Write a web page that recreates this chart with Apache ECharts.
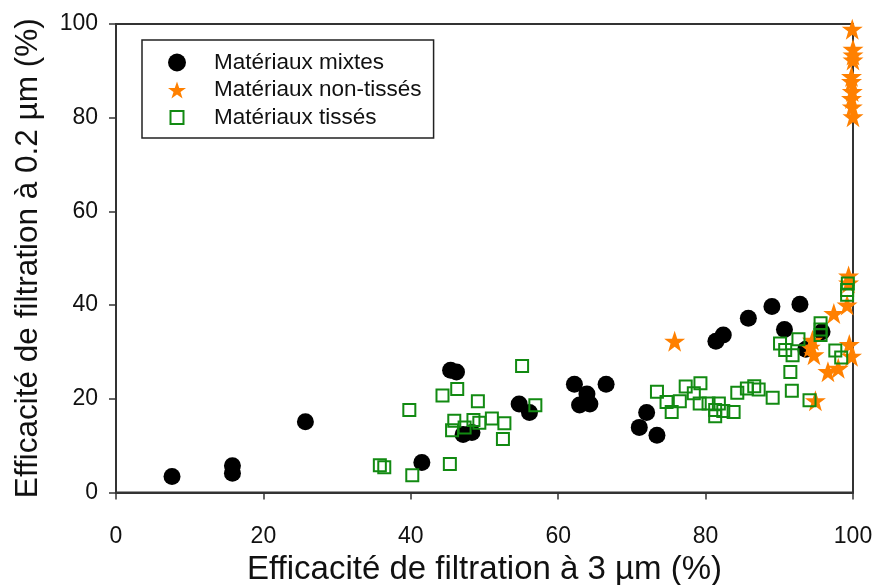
<!DOCTYPE html>
<html>
<head>
<meta charset="utf-8">
<script src="https://cdn.jsdelivr.net/npm/echarts@6/dist/echarts.min.js"></script>
<style>
html,body{margin:0;padding:0;background:#fff;}
#c{width:875px;height:585px;}
</style>
</head>
<body>
<div id="c"></div>
<script>
// Data: [efficacité à 3 µm (%), efficacité à 0.2 µm (%)]
var mixtes = [[7.6,3.4],[15.8,5.7],[15.8,4.1],[25.7,15.1],[41.5,6.4],[45.4,26.1],[46.2,25.7],[47.1,12.4],[48.3,12.8],[54.7,18.9],[56.1,17.1],[62.2,23.1],[62.9,18.7],[63.9,21.0],[64.3,18.9],[66.5,23.1],[71.0,13.9],[72.0,17.1],[73.4,12.2],[81.4,32.3],[82.4,33.6],[85.8,37.2],[89.0,39.7],[90.7,34.8],[92.8,40.2],[93.6,30.6],[95.8,34.3]];
var nonTisses = [[75.8,32.3],[94.5,32.5],[94.2,31.0],[94.7,29.4],[94.9,19.6],[96.6,25.8],[98.0,26.5],[97.4,38.2],[99.2,40.0],[99.4,46.2],[99.4,44.7],[99.5,31.6],[99.8,29.1],[99.9,98.9],[100,94.6],[100,93.4],[100,92.3],[99.8,88.8],[99.8,87.7],[99.9,85.6],[99.8,84.1],[99.9,82.3],[100,80.2]];
var tisses = [[35.8,5.8],[36.4,5.4],[40.2,3.7],[45.3,6.1],[39.8,17.6],[44.3,20.7],[46.3,22.1],[49.1,19.5],[45.9,15.3],[48.5,15.5],[49.3,14.9],[51.0,15.8],[45.6,13.3],[47.3,13.9],[52.7,14.8],[52.5,11.4],[55.1,27.0],[56.9,18.6],[73.4,21.5],[74.7,19.3],[75.4,17.2],[76.5,19.5],[77.3,22.6],[79.3,23.3],[78.4,21.2],[79.2,19.0],[80.4,19.0],[81.8,19.0],[81.3,17.6],[81.3,16.3],[82.4,17.4],[83.8,17.2],[84.3,21.3],[85.6,22.2],[86.6,22.7],[87.2,22.0],[89.1,20.2],[91.7,21.7],[91.5,25.7],[94.1,19.7],[90.1,31.8],[90.8,30.4],[91.8,29.3],[92.6,32.7],[95.6,36.1],[95.6,34.8],[95.6,33.6],[97.6,30.3],[98.4,28.8],[99.2,43.2],[99.2,42.2],[99.3,44.6]];
var seriesNames = ['Matériaux mixtes','Matériaux non-tissés','Matériaux tissés'];
var xTitle = 'Efficacité de filtration à 3 µm (%)';
var yTitle = 'Efficacité de filtration à 0.2 µm (%)';

var STAR = 'path://M50,2 L61.8,36.2 L97.6,36.2 L68.6,57.4 L79.4,92 L50,70.6 L20.6,92 L31.4,57.4 L2.4,36.2 L38.2,36.2 Z';
var SQ_ICON = 'path://M0,0 M18,18 M2.5,2.5 L15.5,2.5 L15.5,15.5 L2.5,15.5 Z';
var FONT = 'Liberation Sans, Arial, sans-serif';
var chart = echarts.init(document.getElementById('c'), null, {renderer:'canvas'});
chart.setOption({
  animation:false,
  backgroundColor:'#fff',
  textStyle:{fontFamily:FONT},
  grid:{left:116, right:22, top:24, bottom:92.5, containLabel:false, outerBoundsMode:'none',
        show:true, borderColor:'#333', borderWidth:2, backgroundColor:'transparent'},
  legend:{
    orient:'vertical', left:142, top:40,
    padding:[11,12,9,25],
    itemWidth:18, itemHeight:18, itemGap:4.5,
    borderColor:'#222', borderWidth:1.5, backgroundColor:'#fff',
    textStyle:{fontFamily:FONT, fontSize:22.5, color:'#111', padding:[0,0,0,23]},
    data:[{name:seriesNames[0]},{name:seriesNames[1]},{name:seriesNames[2], icon:SQ_ICON}]
  },
  xAxis:{
    type:'value', min:0, max:100, interval:20,
    name:xTitle, nameLocation:'middle', nameGap:50,
    nameTextStyle:{fontFamily:FONT, fontSize:33, color:'#111'},
    axisLine:{lineStyle:{color:'#333', width:2}},
    axisTick:{show:true, inside:false, length:7, lineStyle:{color:'#333', width:1.5}},
    axisLabel:{fontFamily:FONT, fontSize:23, color:'#111', margin:33},
    splitLine:{show:false}
  },
  yAxis:{
    type:'value', min:0, max:100, interval:20,
    name:yTitle, nameLocation:'middle', nameGap:72, nameRotate:90,
    nameTextStyle:{fontFamily:FONT, fontSize:31.5, color:'#111'},
    axisLine:{lineStyle:{color:'#333', width:2}},
    axisTick:{show:true, inside:false, length:7, lineStyle:{color:'#333', width:1.5}},
    axisLabel:{fontFamily:FONT, fontSize:23, color:'#111', margin:18},
    splitLine:{show:false}
  },
  series:[
    {name:seriesNames[0], type:'scatter', data:mixtes, symbol:'circle', symbolSize:17,
     itemStyle:{color:'#000', opacity:1}, clip:false},
    {name:seriesNames[1], type:'scatter', data:nonTisses, symbol:STAR, symbolSize:21,
     itemStyle:{color:'#ff8000', opacity:1}, clip:false},
    {name:seriesNames[2], type:'scatter', data:tisses, symbol:'rect', symbolSize:12,
     itemStyle:{color:'rgba(0,0,0,0)', borderColor:'#128a12', borderWidth:2, opacity:1}, clip:false}
  ]
});
</script>
</body>
</html>
